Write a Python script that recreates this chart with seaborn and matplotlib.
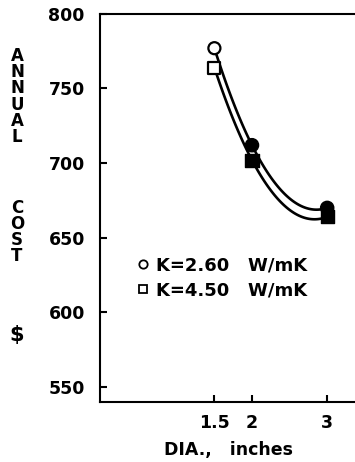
import pandas as pd
import matplotlib
matplotlib.use("Agg")
import matplotlib.pyplot as plt
from matplotlib.lines import Line2D
import seaborn as sns

# data
diameter = [1.5, 2.0, 3.0]
cost_k260 = [777, 712, 670]
cost_k450 = [764, 702, 664]
series_labels = ["K=2.60   W/mK", "K=4.50   W/mK"]
series_markers = ["o", "s"]
y_ticks = [550, 600, 650, 700, 750, 800]
x_ticks = [1.5, 2, 3]
x_ticklabels = ["1.5", "2", "3"]

sns.set_style("ticks")
plt.rcParams.update({
    "font.family": "DejaVu Sans",
    "font.size": 12,
    "font.weight": "bold",
    "text.color": "black",
    "axes.edgecolor": "black",
    "xtick.color": "black",
    "ytick.color": "black",
})

df = pd.concat([
    pd.DataFrame({"Diameter": diameter, "Cost": cost_k260, "K": series_labels[0]}),
    pd.DataFrame({"Diameter": diameter, "Cost": cost_k450, "K": series_labels[1]}),
])
marker_map = dict(zip(series_labels, series_markers))

fig = plt.figure(figsize=(3.55, 4.62), dpi=100)
ax = fig.add_axes([0.282, 0.130, 0.718, 0.840])

# smooth curves through the points (quadratic fit)
for lab in series_labels:
    sub = df[df["K"] == lab]
    sns.regplot(data=sub, x="Diameter", y="Cost", order=2, ci=None,
                scatter=False, truncate=True, ax=ax,
                line_kws=dict(color="black", lw=1.9))

# first point open, the others filled
first = df[df["Diameter"] == diameter[0]]
rest = df[df["Diameter"] != diameter[0]]
sns.scatterplot(data=first, x="Diameter", y="Cost", style="K", markers=marker_map,
                s=75, facecolor="white", edgecolor="black", linewidth=1.6,
                legend=False, ax=ax, zorder=3)
sns.scatterplot(data=rest, x="Diameter", y="Cost", style="K", markers=marker_map,
                s=90, color="black", edgecolor="black", linewidth=1.0,
                legend=False, ax=ax, zorder=3)

ax.set_xlim(-0.02, 3.37)
ax.set_ylim(540, 800)
ax.set_xticks(x_ticks)
ax.set_xticklabels(x_ticklabels)
ax.set_yticks(y_ticks)
ax.set_xlabel("")
ax.set_ylabel("")
ax.tick_params(direction="in", length=5, width=1.5, labelsize=12.5)
ax.tick_params(axis="y", pad=11)
ax.tick_params(axis="x", pad=9)
for side in ["left", "bottom", "top"]:
    ax.spines[side].set_linewidth(1.5)
ax.spines["right"].set_visible(False)

handles = [Line2D([], [], marker=m, ls="", mfc="white", mec="black", mew=1.3, ms=6)
           for m in series_markers]
ax.legend(handles, series_labels, loc="center left",
          bbox_to_anchor=(0.358, 0.399), bbox_transform=fig.transFigure,
          frameon=False, borderpad=0, handlelength=0.8, handletextpad=0.3,
          labelspacing=0.4, fontsize=13)

fig.text(229 / 355, 1 - 450 / 462, "DIA.,   inches",
         ha="center", va="center", fontsize=12.5)
fig.text(17 / 355, 1 - 96.5 / 462, "A\nN\nN\nU\nA\nL", ha="center", va="center",
         fontsize=12, linespacing=0.88)
fig.text(17 / 355, 1 - 232 / 462, "C\nO\nS\nT", ha="center", va="center",
         fontsize=12, linespacing=0.88)
fig.text(17 / 355, 1 - 335 / 462, "$", ha="center", va="center", fontsize=15)

fig.savefig("out.png", dpi=100)
